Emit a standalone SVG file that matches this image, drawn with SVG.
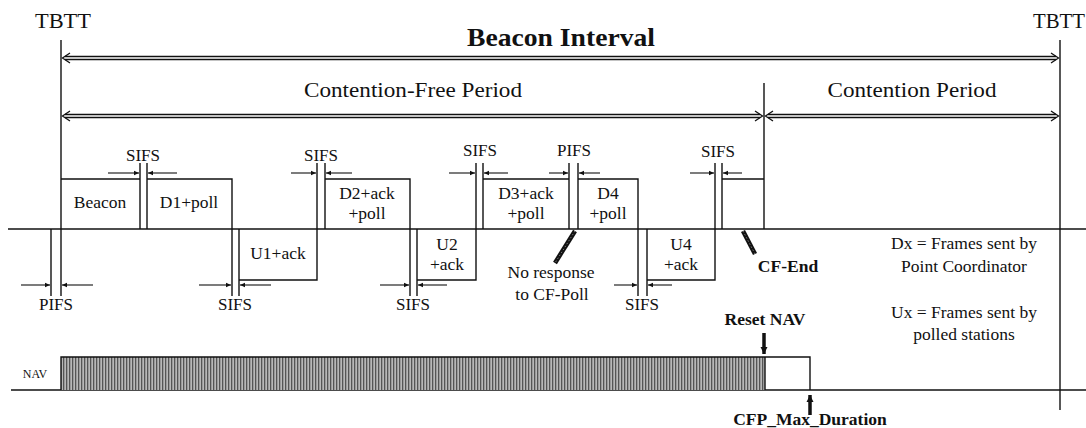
<svg xmlns="http://www.w3.org/2000/svg" width="1086" height="428" viewBox="0 0 1086 428">
<style>
.t{font-family:"Liberation Serif","Times New Roman",serif;fill:#111;text-anchor:middle}
.ln{stroke:#111;stroke-width:1.4;fill:none}
.dbl{stroke:#111;stroke-width:1.3;fill:none}
.sm{stroke:#111;stroke-width:1.1;fill:none}
.ptr{stroke:#111;stroke-width:4.5}
.ptri{stroke:#777;stroke-width:1;stroke-dasharray:1.5 2}
</style>
<defs>
<marker id="a" markerWidth="6" markerHeight="6" refX="5" refY="3" orient="auto" markerUnits="userSpaceOnUse">
<path d="M0,0.8 L5,3 L0,5.2 Z" fill="#111"/>
</marker>
<marker id="b" markerWidth="10" markerHeight="8" refX="7" refY="4" orient="auto" markerUnits="userSpaceOnUse">
<path d="M0,0.5 L7,4 L0,7.5 Z" fill="#111"/>
</marker>
<pattern id="hatch" width="3" height="10" patternUnits="userSpaceOnUse">
<rect width="3" height="10" fill="#b8b8b8"/>
<rect width="1.3" height="10" fill="#555"/>
</pattern>
</defs>

<g id="timeline">
<line class="ln" x1="61" y1="40" x2="61" y2="296"/>
<line class="ln" x1="1060" y1="40" x2="1060" y2="410"/>
<line class="ln" x1="764" y1="83" x2="764" y2="229"/>
<line class="ln" x1="8" y1="229" x2="1086" y2="229"/>
<text class="t" x="63" y="28" font-size="22" textLength="56" lengthAdjust="spacingAndGlyphs">TBTT</text>
<text class="t" x="1059" y="28" font-size="22" textLength="52" lengthAdjust="spacingAndGlyphs">TBTT</text>
</g>

<g id="beacon-interval">
<path class="dbl" d="M70,53 L62.5,58 L70,63"/>
<path class="dbl" d="M1051,53 L1058.5,58 L1051,63"/>
<line class="dbl" x1="65" y1="56.5" x2="1056" y2="56.5"/>
<line class="dbl" x1="65" y1="59.5" x2="1056" y2="59.5"/>
<text class="t" x="561" y="46" font-size="26" font-weight="bold" textLength="188" lengthAdjust="spacingAndGlyphs">Beacon Interval</text>
</g>

<g id="cfp">
<path class="dbl" d="M70,111 L62.5,116 L70,121"/>
<path class="dbl" d="M755,111 L762.5,116 L755,121"/>
<line class="dbl" x1="65" y1="114.5" x2="760" y2="114.5"/>
<line class="dbl" x1="65" y1="117.5" x2="760" y2="117.5"/>
<text class="t" x="413" y="97" font-size="22" textLength="218" lengthAdjust="spacingAndGlyphs">Contention-Free Period</text>
</g>

<g id="cp">
<path class="dbl" d="M773,111 L765.5,116 L773,121"/>
<path class="dbl" d="M1051,111 L1058.5,116 L1051,121"/>
<line class="dbl" x1="768" y1="114.5" x2="1056" y2="114.5"/>
<line class="dbl" x1="768" y1="117.5" x2="1056" y2="117.5"/>
<text class="t" x="912" y="97" font-size="22" textLength="169" lengthAdjust="spacingAndGlyphs">Contention Period</text>
</g>

<g id="frames">
<path class="ln" d="M61,179 H140 M140,163 V229"/>
<path class="ln" d="M147,163 V229 M147,179 H232 V296"/>
<path class="ln" d="M239,229 V296 M239,280 H317 V163"/>
<path class="ln" d="M325,163 V229 M325,179 H410 V296"/>
<path class="ln" d="M417,229 V296 M417,280 H476 V163"/>
<path class="ln" d="M483,163 V229 M483,179 H569 M569,163 V229"/>
<path class="ln" d="M578,163 V229 M578,179 H638 V296"/>
<path class="ln" d="M647,229 V296 M647,280 H715 V163"/>
<path class="ln" d="M722,163 V229 M722,179 H764"/>
<path class="ln" d="M51,229 V296"/>
</g>

<g id="frame-labels">
<text class="t" x="100" y="208" font-size="17.5">Beacon</text>
<text class="t" x="189" y="208" font-size="17.5">D1+poll</text>
<text class="t" x="278" y="259" font-size="17.5">U1+ack</text>
<text class="t" x="367" y="199" font-size="17.5">D2+ack</text>
<text class="t" x="367" y="219" font-size="17.5">+poll</text>
<text class="t" x="447" y="250" font-size="17.5">U2</text>
<text class="t" x="447" y="270" font-size="17.5">+ack</text>
<text class="t" x="526" y="199" font-size="17.5">D3+ack</text>
<text class="t" x="526" y="219" font-size="17.5">+poll</text>
<text class="t" x="608" y="199" font-size="17.5">D4</text>
<text class="t" x="608" y="219" font-size="17.5">+poll</text>
<text class="t" x="681" y="250" font-size="17.5">U4</text>
<text class="t" x="681" y="270" font-size="17.5">+ack</text>
</g>

<g id="gaps">
<line class="sm" x1="108" y1="173" x2="139" y2="173" marker-end="url(#a)"/>
<line class="sm" x1="177" y1="173" x2="148" y2="173" marker-end="url(#a)"/>
<text class="t" x="143" y="161" font-size="17">SIFS</text>
<line class="sm" x1="291" y1="173" x2="316" y2="173" marker-end="url(#a)"/>
<line class="sm" x1="352" y1="173" x2="326" y2="173" marker-end="url(#a)"/>
<text class="t" x="321" y="161" font-size="17">SIFS</text>
<line class="sm" x1="449" y1="173" x2="475" y2="173" marker-end="url(#a)"/>
<line class="sm" x1="508" y1="173" x2="484" y2="173" marker-end="url(#a)"/>
<text class="t" x="480" y="156" font-size="17">SIFS</text>
<line class="sm" x1="549" y1="173" x2="568" y2="173" marker-end="url(#a)"/>
<line class="sm" x1="600" y1="173" x2="579" y2="173" marker-end="url(#a)"/>
<text class="t" x="574" y="156" font-size="17">PIFS</text>
<line class="sm" x1="690" y1="173" x2="714" y2="173" marker-end="url(#a)"/>
<line class="sm" x1="742" y1="173" x2="723" y2="173" marker-end="url(#a)"/>
<text class="t" x="718" y="157" font-size="17">SIFS</text>

<line class="sm" x1="21" y1="285" x2="50" y2="285" marker-end="url(#a)"/>
<line class="sm" x1="93" y1="285" x2="62" y2="285" marker-end="url(#a)"/>
<text class="t" x="56" y="310" font-size="17">PIFS</text>
<line class="sm" x1="199" y1="285" x2="231" y2="285" marker-end="url(#a)"/>
<line class="sm" x1="271" y1="285" x2="240" y2="285" marker-end="url(#a)"/>
<text class="t" x="235" y="310" font-size="17">SIFS</text>
<line class="sm" x1="380" y1="285" x2="409" y2="285" marker-end="url(#a)"/>
<line class="sm" x1="447" y1="285" x2="418" y2="285" marker-end="url(#a)"/>
<text class="t" x="413" y="310" font-size="17">SIFS</text>
<line class="sm" x1="614" y1="285" x2="637" y2="285" marker-end="url(#a)"/>
<line class="sm" x1="672" y1="285" x2="648" y2="285" marker-end="url(#a)"/>
<text class="t" x="642" y="310" font-size="17">SIFS</text>
</g>

<g id="callouts">
<line class="ptr" x1="575" y1="231" x2="555" y2="263"/>
<line class="ptri" x1="575" y1="231" x2="555" y2="263"/>
<text class="t" x="551" y="278" font-size="17.5">No response</text>
<text class="t" x="552" y="300" font-size="17.5">to CF-Poll</text>
<line class="ptr" x1="743" y1="231" x2="755" y2="254"/>
<line class="ptri" x1="743" y1="231" x2="755" y2="254"/>
<text class="t" x="788" y="272" font-size="17.5" font-weight="bold">CF-End</text>
</g>

<g id="legend">
<text class="t" x="964" y="249" font-size="17.5">Dx = Frames sent by</text>
<text class="t" x="964" y="272" font-size="17.5">Point Coordinator</text>
<text class="t" x="964" y="318" font-size="17.5">Ux = Frames sent by</text>
<text class="t" x="964" y="340" font-size="17.5">polled stations</text>
</g>

<g id="nav">
<line class="ln" x1="11" y1="390" x2="1086" y2="390"/>
<rect x="61" y="357" width="704" height="33" fill="url(#hatch)"/>
<path class="ln" d="M61,390 V357 H810 V390"/>
<line class="ln" x1="765" y1="357" x2="765" y2="390"/>
<text class="t" x="35" y="378" font-size="12">NAV</text>
<text class="t" x="765" y="325" font-size="17.5" font-weight="bold">Reset NAV</text>
<line x1="764" y1="333" x2="764" y2="354" stroke="#111" stroke-width="3.5" marker-end="url(#b)"/>
<line x1="810" y1="415" x2="810" y2="395" stroke="#111" stroke-width="3.5" marker-end="url(#b)"/>
<text class="t" x="810" y="425" font-size="17.5" font-weight="bold">CFP_Max_Duration</text>
</g>
</svg>
